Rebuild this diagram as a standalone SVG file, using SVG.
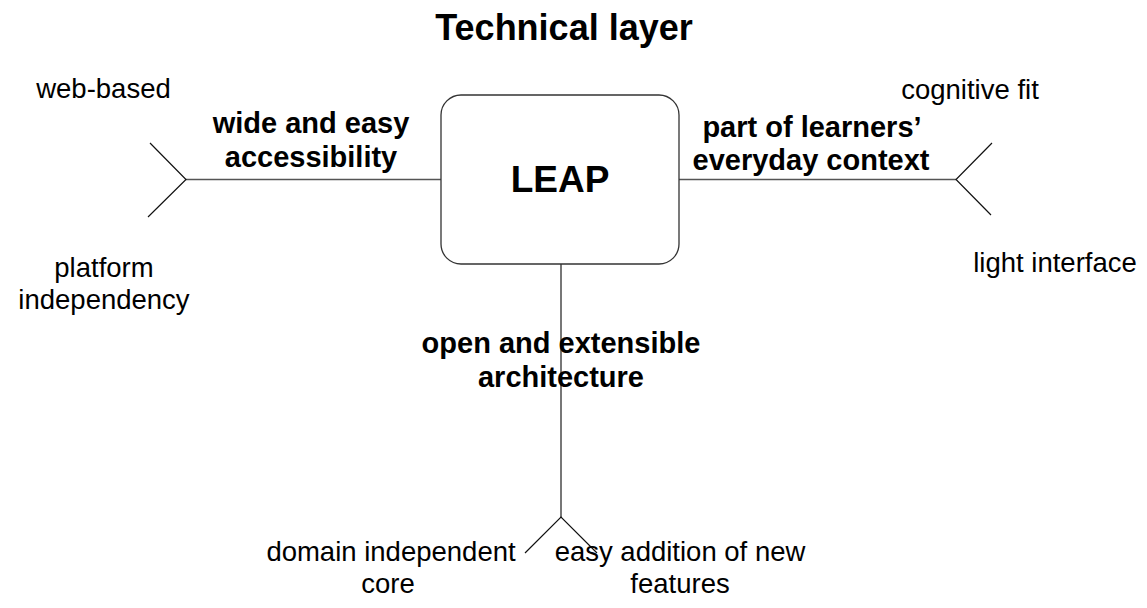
<svg xmlns="http://www.w3.org/2000/svg" width="1147" height="608" viewBox="0 0 1147 608">
  <style>
    text { font-family: "Liberation Sans", Arial, sans-serif; fill: #000; text-anchor: middle; }
    .title { font-size: 36px; font-weight: bold; }
    .core { font-size: 37px; font-weight: bold; }
    .bold { font-size: 29px; font-weight: bold; }
    .reg { font-size: 27.5px; }
    .axis { stroke: #555; stroke-width: 1.6; fill: none; }
    .fork { stroke: #111; stroke-width: 1.2; fill: none; }
    .box { fill: #fff; stroke: #333; stroke-width: 1.3; }
  </style>
  <rect width="1147" height="608" fill="#fff"/>

  <text class="title" x="564" y="40">Technical layer</text>

  <!-- connectors: axes from the central box and their forks -->
  <g id="connectors">
    <line class="axis" x1="186" y1="179.5" x2="441" y2="179.5"/>
    <line class="axis" x1="679" y1="179.5" x2="956" y2="179.5"/>
    <line class="axis" x1="561" y1="264" x2="561" y2="517"/>
    <polyline class="fork" points="150,143 186,179.5 148,217"/>
    <polyline class="fork" points="992,143 956,179.5 991,215"/>
    <polyline class="fork" points="525,553 561,517 597,553"/>
  </g>

  <g id="leap">
    <rect class="box" x="441" y="95" width="238" height="169" rx="20" ry="20"/>
    <text class="core" x="560" y="192">LEAP</text>
  </g>

  <g id="accessibility">
    <text class="bold" x="311" y="133">wide and easy</text>
    <text class="bold" x="311" y="167">accessibility</text>
  </g>
  <g id="context">
    <text class="bold" x="812" y="137">part of learners’</text>
    <text class="bold" x="811" y="170">everyday context</text>
  </g>
  <g id="architecture">
    <text class="bold" x="561" y="353">open and extensible</text>
    <text class="bold" x="561" y="387">architecture</text>
  </g>

  <g id="web-based">
    <text class="reg" x="103.5" y="98">web-based</text>
  </g>
  <g id="platform">
    <text class="reg" x="104" y="277">platform</text>
    <text class="reg" x="104" y="309">independency</text>
  </g>
  <g id="cognitive-fit">
    <text class="reg" x="970" y="99">cognitive fit</text>
  </g>
  <g id="light-interface">
    <text class="reg" x="1055" y="272">light interface</text>
  </g>
  <g id="domain-core">
    <text class="reg" x="391" y="561">domain independent</text>
    <text class="reg" x="388" y="593">core</text>
  </g>
  <g id="new-features">
    <text class="reg" x="680" y="561">easy addition of new</text>
    <text class="reg" x="680" y="593">features</text>
  </g>
</svg>
